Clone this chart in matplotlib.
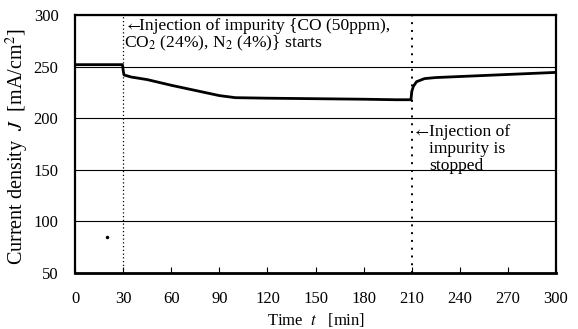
import numpy as np
import matplotlib.pyplot as plt

plt.rcParams['font.family'] = 'Liberation Serif'
plt.rcParams['mathtext.fontset'] = 'stix'

# current density vs time
t = [0, 10, 20, 29.5, 30, 30.5, 35, 45, 60, 75, 90, 100, 120, 150, 180, 200, 209.5,
     210, 211, 213, 218, 225, 240, 255, 270, 285, 300]
J = [252, 252, 252, 252, 246, 242, 240, 237.5, 232, 227, 222, 220, 219.5, 219, 218.5, 218, 218,
     226, 231, 235.5, 238.5, 239.5, 240.5, 241.5, 242.5, 243.5, 244.5]
dot_t = [20]
dot_J = [85]

fig, ax = plt.subplots(figsize=(5.78, 3.29), dpi=100)
fig.subplots_adjust(left=0.130, right=0.962, top=0.954, bottom=0.170)

ax.set_xlim(0, 300)
ax.set_ylim(50, 300)
ax.set_xticks(np.arange(0, 301, 30))
ax.set_yticks(np.arange(50, 301, 50))
ax.grid(axis='y', color='black', lw=0.8)
ax.tick_params(axis='x', direction='in', length=4, labelsize=12, pad=13)
ax.tick_params(axis='y', length=0, labelsize=12, pad=12)
for s in ax.spines.values():
    s.set_linewidth(1.6)
ax.spines['bottom'].set_linewidth(2)

ax.plot(t, J, color='black', lw=2)
ax.plot(dot_t, dot_J, 'k.', ms=3)

ax.axvline(30, color='black', lw=0.9, ls=(0, (1, 2)))
ax.axvline(210, color='black', lw=1.4, ls=(0, (1, 3)))

ax.text(30.3, 295.5, '$\\leftarrow$', fontsize=11, va='top', ha='left')
ax.text(40, 297, 'Injection of impurity {CO (50ppm),', fontsize=12.6, va='top', ha='left')
ax.text(30.6, 281.5, 'CO$_2$ (24%), N$_2$ (4%)} starts', fontsize=12.6, va='top', ha='left')
ax.text(210.3, 192.5, '$\\leftarrow$', fontsize=11, va='top', ha='left')
ax.text(221, 194, 'Injection of\nimpurity is\nstopped',
        fontsize=12.6, va='top', ha='left', linespacing=1.05)

ax.set_xlabel('Time  $t$   [min]', fontsize=12, labelpad=3)
ax.set_ylabel('Current density  $J$  [mA/cm$^2$]', fontsize=14.5)
ax.yaxis.set_label_coords(-0.092, 0.49)

fig.savefig('out.png', dpi=100)
